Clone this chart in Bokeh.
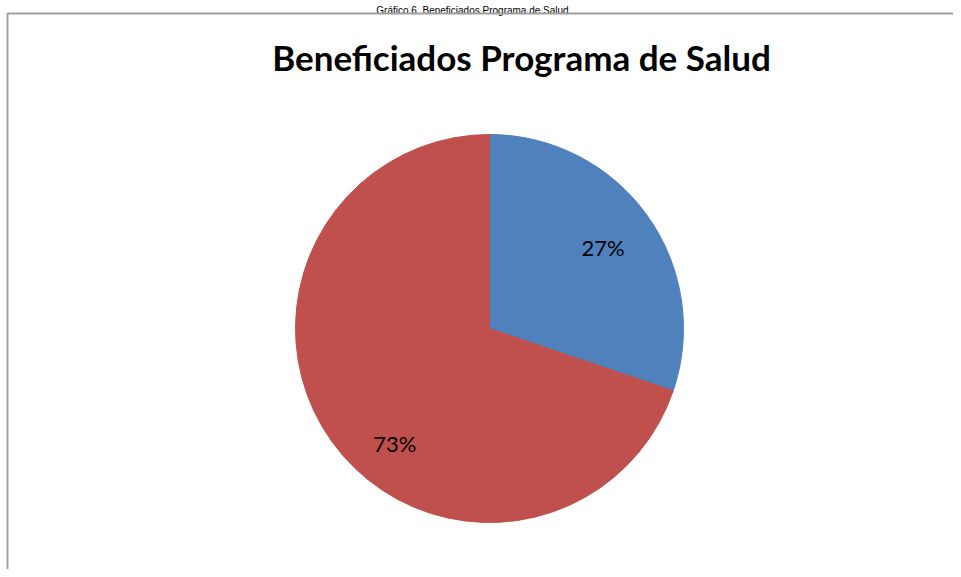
import math
from bokeh.plotting import figure
from bokeh.models import Range1d, ColumnDataSource
from bokeh.core.properties import value
from bokeh.embed import file_html
from bokeh.resources import INLINE

categories = ["Beneficiados", "No beneficiados"]
shares = [0.302, 0.698]
labels = ["27%", "73%"]
colors = ["#4F81BD", "#C0504D"]
title_text = "Beneficiados Programa de Salud"
caption_text = "Gráfico 6. Beneficiados Programa de Salud"

W, H = 953, 569
p = figure(width=W, height=H, output_backend="svg", toolbar_location=None,
           x_range=Range1d(0, W), y_range=Range1d(0, H), min_border=0)
p.axis.visible = False
p.grid.visible = False
p.outline_line_color = None
p.background_fill_color = "white"

# pixel coords -> data: x = px, y = H - py
cx, cy, R = 489, H - 328, 194

starts, ends, lx, ly = [], [], [], []
a = math.pi / 2
label_r = [0.72, 0.77]
label_shift = [0.0, math.radians(15)]
for i, s in enumerate(shares):
    e = a - s * 2 * math.pi
    starts.append(e)
    ends.append(a)
    mid = (a + e) / 2 + label_shift[i]
    lx.append(cx + label_r[i] * R * math.cos(mid))
    ly.append(cy + label_r[i] * R * math.sin(mid))
    a = e

src = ColumnDataSource(dict(cat=categories, start=starts, end=ends, color=colors,
                            lx=lx, ly=ly, lab=labels))
p.wedge(x=cx, y=cy, radius=R, start_angle="start", end_angle="end",
        fill_color="color", line_color="color", source=src)
p.text(x="lx", y="ly", text="lab", source=src, text_align="center",
       text_baseline="middle", text_font=value("Lato"), text_font_size="22px",
       text_color="black")

p.text(x=[521], y=[H - 56], text=[title_text], text_align="center",
       text_baseline="alphabetic", text_font=value("Lato"), text_font_size="35px",
       text_font_style="bold", text_color="black")

p.text(x=[472], y=[H - 10], text=[caption_text], text_align="center",
       text_baseline="alphabetic", text_font=value("Liberation Sans"),
       text_font_size="10px", text_color="black")

# frame
p.line(x=[7, 7, W], y=[0, H - 13, H - 13], line_color="#A0A0A0", line_width=2)

open("out.html", "w").write(file_html(p, INLINE))
